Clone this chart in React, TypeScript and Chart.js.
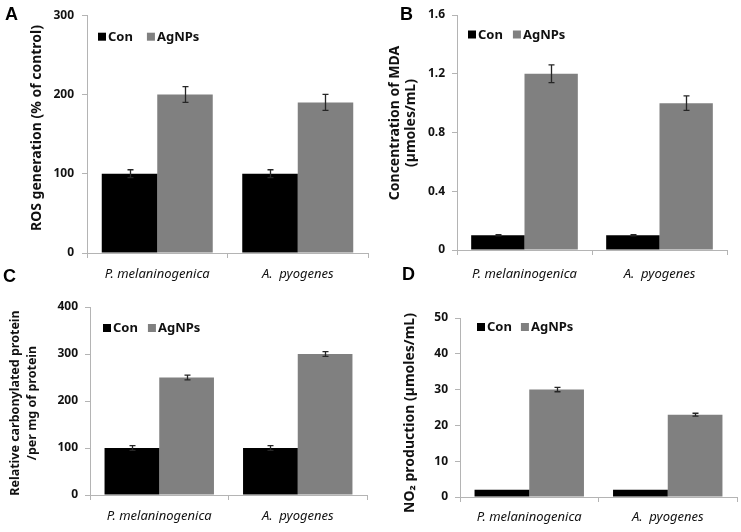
import React, { useEffect, useRef } from "react";
import { Chart, registerables } from "chart.js";

Chart.register(...registerables);

const FONT = "'Noto Sans', 'DejaVu Sans', sans-serif";

const categories = ["P. melaninogenica", "A.  pyogenes"];
const seriesLabels = ["Con", "AgNPs"];
const seriesColors = ["#000000", "#808080"];

// Panel A: ROS generation
const rosCon = [100, 100];
const rosConErr = [5, 5];
const rosAg = [200, 190];
const rosAgErr = [10, 10];
const rosTicks = [0, 100, 200, 300];

// Panel B: MDA
const mdaCon = [0.1, 0.1];
const mdaConErr = [0.004, 0.004];
const mdaAg = [1.2, 1.0];
const mdaAgErr = [0.06, 0.05];
const mdaTicks = [0, 0.4, 0.8, 1.2, 1.6];

// Panel C: carbonylated protein
const carbCon = [100, 100];
const carbConErr = [5, 5];
const carbAg = [250, 300];
const carbAgErr = [5, 5];
const carbTicks = [0, 100, 200, 300, 400];

// Panel D: NO2 production
const no2Con = [2, 2];
const no2ConErr = [0, 0];
const no2Ag = [30, 23];
const no2AgErr = [0.6, 0.4];
const no2Ticks = [0, 10, 20, 30, 40, 50];

type PanelCfg = {
  letter: string;
  title: string[];
  con: number[];
  conErr: number[];
  ag: number[];
  agErr: number[];
  ticks: number[];
  x: number;
  y: number;
  w: number;
  h: number;
  padTop: number;
  padRight: number;
  yWidth: number;
  xHeight: number;
  titleXs: number[];
  titleY: number;
  titleSize: number;
  xLabelPad: number;
  yLabelPad: number;
  legendDx: number;
  legendDy: number;
  legendGap: number;
  letterX: number;
  letterY: number;
};

const panels: PanelCfg[] = [
  {
    letter: "A",
    title: ["ROS generation (% of control)"],
    con: rosCon, conErr: rosConErr, ag: rosAg, agErr: rosAgErr, ticks: rosTicks,
    x: 0, y: 0, w: 371, h: 290,
    padTop: 12, padRight: 3, yWidth: 87, xHeight: 37,
    titleXs: [37], titleY: 128, titleSize: 14,
    xLabelPad: 8, yLabelPad: 8,
    legendDx: 11, legendDy: 21.5, legendGap: 14,
    letterX: 5, letterY: 20,
  },
  {
    letter: "B",
    title: ["Concentration of MDA", "(µmoles/mL)"],
    con: mdaCon, conErr: mdaConErr, ag: mdaAg, agErr: mdaAgErr, ticks: mdaTicks,
    x: 370, y: 0, w: 371, h: 290,
    padTop: 15, padRight: 14, yWidth: 87, xHeight: 40,
    titleXs: [25, 41], titleY: 123, titleSize: 14,
    xLabelPad: 11, yLabelPad: 7,
    legendDx: 11, legendDy: 19.5, legendGap: 10,
    letterX: 30, letterY: 20,
  },
  {
    letter: "C",
    title: ["Relative carbonylated protein", "/per mg of protein"],
    con: carbCon, conErr: carbConErr, ag: carbAg, agErr: carbAgErr, ticks: carbTicks,
    x: 0, y: 262, w: 371, h: 270,
    padTop: 45, padRight: 4, yWidth: 90, xHeight: 37,
    titleXs: [15, 32], titleY: 141, titleSize: 12.5,
    xLabelPad: 8, yLabelPad: 7,
    legendDx: 13, legendDy: 21, legendGap: 10,
    letterX: 3, letterY: 20,
  },
  {
    letter: "D",
    title: ["NO\u2082 production (µmoles/mL)"],
    con: no2Con, conErr: no2ConErr, ag: no2Ag, agErr: no2AgErr, ticks: no2Ticks,
    x: 370, y: 262, w: 371, h: 270,
    padTop: 56, padRight: 4, yWidth: 90, xHeight: 35,
    titleXs: [40], titleY: 151, titleSize: 14,
    xLabelPad: 7, yLabelPad: 7,
    legendDx: 17, legendDy: 9, legendGap: 9,
    letterX: 32, letterY: 18,
  },
];

const decorPlugin = {
  id: "panelDecor",
  afterDatasetsDraw(chart: any) {
    const ctx = chart.ctx;
    const yScale = chart.scales.y;
    ctx.save();
    ctx.strokeStyle = "#262626";
    ctx.lineWidth = 1.3;
    chart.data.datasets.forEach((ds: any, di: number) => {
      const meta = chart.getDatasetMeta(di);
      meta.data.forEach((bar: any, i: number) => {
        const e = ds.errors ? ds.errors[i] : 0;
        if (!e) return;
        const v = ds.data[i];
        const x = Math.round(bar.x) + 0.5;
        const yTop = yScale.getPixelForValue(v + e);
        const yBot = yScale.getPixelForValue(v - e);
        ctx.beginPath();
        ctx.moveTo(x, yTop);
        ctx.lineTo(x, yBot);
        ctx.moveTo(x - 3, yTop);
        ctx.lineTo(x + 3, yTop);
        ctx.moveTo(x - 3, yBot);
        ctx.lineTo(x + 3, yBot);
        ctx.stroke();
      });
    });
    ctx.restore();
  },
  afterDraw(chart: any, _args: any, opts: any) {
    const ctx = chart.ctx;
    const { left, top } = chart.chartArea;
    ctx.save();
    // legend
    ctx.font = `bold 13px ${FONT}`;
    ctx.textBaseline = "middle";
    ctx.textAlign = "left";
    let x = left + opts.legendDx;
    const cy = top + opts.legendDy;
    chart.data.datasets.forEach((ds: any) => {
      ctx.fillStyle = ds.backgroundColor;
      ctx.fillRect(x, cy - 4, 8, 8);
      ctx.fillStyle = "#111111";
      ctx.fillText(ds.label, x + 10, cy + 0.5);
      x += 10 + ctx.measureText(ds.label).width + opts.legendGap;
    });
    // y-axis title (rotated)
    ctx.font = `bold ${opts.titleSize}px ${FONT}`;
    ctx.textAlign = "center";
    ctx.textBaseline = "middle";
    ctx.fillStyle = "#111111";
    opts.title.forEach((line: string, i: number) => {
      ctx.save();
      ctx.translate(opts.titleXs[i], opts.titleY);
      ctx.rotate(-Math.PI / 2);
      ctx.fillText(line, 0, 0);
      ctx.restore();
    });
    // panel letter
    ctx.font = `bold 18px 'Liberation Sans', Arial, sans-serif`;
    ctx.textAlign = "left";
    ctx.textBaseline = "alphabetic";
    ctx.fillStyle = "#000000";
    ctx.fillText(opts.letter, opts.letterX, opts.letterY);
    ctx.restore();
  },
};

function Panel({ cfg }: { cfg: PanelCfg }) {
  const ref = useRef<HTMLCanvasElement>(null);
  useEffect(() => {
    const axisColor = "#b4b4b4";
    const chart = new Chart(ref.current as HTMLCanvasElement, {
      type: "bar",
      data: {
        labels: categories,
        datasets: [
          {
            label: seriesLabels[0],
            data: cfg.con,
            errors: cfg.conErr,
            backgroundColor: seriesColors[0],
            borderWidth: 0,
            categoryPercentage: 0.79,
            barPercentage: 1.0,
          } as any,
          {
            label: seriesLabels[1],
            data: cfg.ag,
            errors: cfg.agErr,
            backgroundColor: seriesColors[1],
            borderWidth: 0,
            categoryPercentage: 0.79,
            barPercentage: 1.0,
          } as any,
        ],
      },
      options: {
        animation: false,
        responsive: false,
        devicePixelRatio: 1,
        layout: { padding: { left: 0, top: cfg.padTop, right: cfg.padRight, bottom: 0 } },
        plugins: {
          legend: { display: false },
          tooltip: { enabled: false },
          panelDecor: {
            legendDx: cfg.legendDx,
            legendDy: cfg.legendDy,
            legendGap: cfg.legendGap,
            letter: cfg.letter,
            letterX: cfg.letterX,
            letterY: cfg.letterY,
            title: cfg.title,
            titleXs: cfg.titleXs,
            titleY: cfg.titleY,
            titleSize: cfg.titleSize,
          },
        } as any,
        scales: {
          x: {
            grid: {
              display: true,
              drawOnChartArea: false,
              drawTicks: true,
              tickLength: 5,
              color: axisColor,
              offset: true,
            },
            border: { display: true, color: axisColor, width: 1 },
            ticks: {
              color: "#111111",
              padding: cfg.xLabelPad,
              font: { family: FONT, size: 13, style: "italic" },
              maxRotation: 0,
              autoSkip: false,
            },
            afterFit: (scale: any) => {
              scale.height = cfg.xHeight;
            },
          },
          y: {
            min: cfg.ticks[0],
            max: cfg.ticks[cfg.ticks.length - 1],
            afterBuildTicks: (scale: any) => {
              scale.ticks = cfg.ticks.map((v) => ({ value: v }));
            },
            grid: {
              display: true,
              drawOnChartArea: false,
              drawTicks: true,
              tickLength: 5,
              color: axisColor,
            },
            border: { display: true, color: axisColor, width: 1 },
            ticks: {
              color: "#111111",
              padding: cfg.yLabelPad,
              font: { family: FONT, size: 12, weight: "bold" },
              callback: (v: any) => String(v),
            },
            title: { display: false },
            afterFit: (scale: any) => {
              scale.width = cfg.yWidth;
            },
          },
        },
      } as any,
      plugins: [decorPlugin as any],
    });
    return () => chart.destroy();
  }, [cfg]);
  return (
    <canvas
      ref={ref}
      width={cfg.w}
      height={cfg.h}
      style={{ position: "absolute", left: cfg.x, top: cfg.y, width: cfg.w, height: cfg.h }}
    />
  );
}

export default function App() {
  return (
    <div
      style={{
        position: "absolute",
        left: 0,
        top: 0,
        width: 741,
        height: 532,
        background: "#ffffff",
        overflow: "hidden",
      }}
    >
      {panels.map((p) => (
        <Panel key={p.letter} cfg={p} />
      ))}
    </div>
  );
}
